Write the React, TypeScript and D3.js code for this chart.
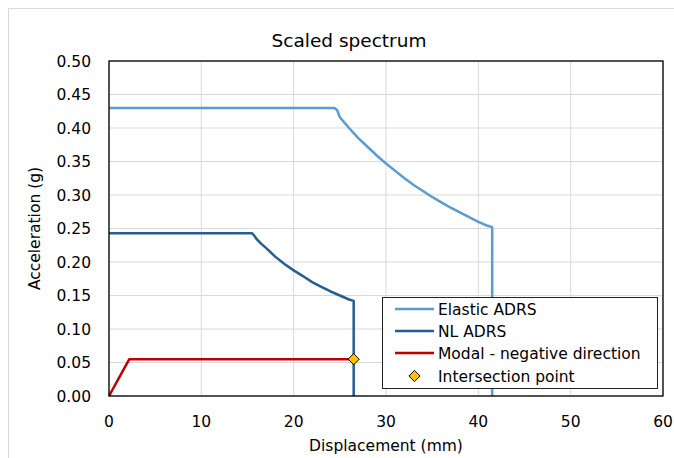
import React from 'react'
import * as d3 from 'd3'

// values: [displacement mm, acceleration g]
const elasticAdrs: [number, number][] = [
  [0, 0.43], [24.4, 0.43], [24.7, 0.427], [25, 0.416], [25.5, 0.408], [26, 0.4],
  [27, 0.385], [28, 0.372], [29, 0.359], [30, 0.347], [31, 0.336], [32, 0.325],
  [33, 0.315], [34, 0.306], [35, 0.297], [36, 0.289], [37, 0.281], [38, 0.274],
  [39, 0.267], [40, 0.26], [41, 0.254], [41.5, 0.252], [41.5, 0]
]
const nlAdrs: [number, number][] = [
  [0, 0.243], [15.5, 0.243], [15.8, 0.238], [16, 0.234], [16.5, 0.227], [17, 0.221],
  [18, 0.208], [19, 0.197], [20, 0.1875], [21, 0.179], [22, 0.17], [23, 0.163],
  [24, 0.156], [25, 0.15], [26, 0.144], [26.5, 0.142], [26.5, 0]
]
const modalNegative: [number, number][] = [[0, 0], [2.2, 0.055], [26.5, 0.055]]
const intersection: [number, number][] = [[26.5, 0.055]]

const xTicks = [0, 10, 20, 30, 40, 50, 60]
const yTicks = [0, 0.05, 0.1, 0.15, 0.2, 0.25, 0.3, 0.35, 0.4, 0.45, 0.5]

const legendItems = [
  { label: 'Elastic ADRS', color: '#5B9BD5', kind: 'line' },
  { label: 'NL ADRS', color: '#255E91', kind: 'line' },
  { label: 'Modal - negative direction', color: '#C00000', kind: 'line' },
  { label: 'Intersection point', color: '#FFC000', kind: 'marker' }
]

const plot = { left: 109, right: 663, top: 61, bottom: 396 }
const font = '"DejaVu Sans", Verdana, sans-serif'

const App = () => {
  const xScale = d3.scaleLinear().domain([0, 60]).range([plot.left, plot.right])
  const yScale = d3.scaleLinear().domain([0, 0.5]).range([plot.bottom, plot.top])
  const line = d3.line<[number, number]>()
    .x(d => xScale(d[0]))
    .y(d => yScale(d[1]))
  const diamond = d3.symbol().type(d3.symbolDiamond2).size(80)

  const series = [
    { data: elasticAdrs, color: legendItems[0].color },
    { data: nlAdrs, color: legendItems[1].color },
    { data: modalNegative, color: legendItems[2].color }
  ]

  const legend = { x: 382, y: 297, w: 275, h: 91 }
  const rowY = [309, 331, 353, 376]

  return (
    <svg width={674} height={458} style={{ position: 'absolute', left: 0, top: 0, background: '#fff' }} fontFamily={font}>
      <rect x={8.5} y={8.5} width={700} height={500} fill='#fff' stroke='#D9D9D9' />

      <text x={349} y={47} textAnchor='middle' fontSize={18.5} fill='#000'>Scaled spectrum</text>

      {/* gridlines */}
      {xTicks.map(t => (
        <line key={`gx${t}`} x1={xScale(t)} x2={xScale(t)} y1={plot.top} y2={plot.bottom} stroke='#D9D9D9' />
      ))}
      {yTicks.map(t => (
        <line key={`gy${t}`} x1={plot.left} x2={plot.right} y1={yScale(t)} y2={yScale(t)} stroke='#D9D9D9' />
      ))}

      {/* tick labels */}
      {xTicks.map(t => (
        <text key={`tx${t}`} x={xScale(t)} y={427} textAnchor='middle' fontSize={15.5}>{t}</text>
      ))}
      {yTicks.map(t => (
        <text key={`ty${t}`} x={91} y={yScale(t) + 5.5} textAnchor='end' fontSize={15.5}>{t.toFixed(2)}</text>
      ))}

      <text x={(plot.left + plot.right) / 2} y={451} textAnchor='middle' fontSize={15.5}>Displacement (mm)</text>
      <text transform={`translate(40, ${(plot.top + plot.bottom) / 2}) rotate(-90)`} textAnchor='middle' fontSize={15.5}>Acceleration (g)</text>

      {/* series */}
      {series.map((s, i) => (
        <path key={i} d={line(s.data) ?? ''} fill='none' stroke={s.color} strokeWidth={2.5} strokeLinejoin='round' />
      ))}
      {intersection.map((d, i) => (
        <path key={i} d={diamond() ?? ''} transform={`translate(${xScale(d[0])}, ${yScale(d[1])})`}
          fill='#FFC000' stroke='#000' strokeWidth={1} />
      ))}

      {/* plot frame */}
      <rect x={plot.left} y={plot.top} width={plot.right - plot.left} height={plot.bottom - plot.top} fill='none' stroke='#000' strokeWidth={1.3} />

      {/* legend */}
      <rect x={legend.x + 0.5} y={legend.y + 0.5} width={legend.w} height={legend.h} fill='#fff' stroke='#222' strokeWidth={1} />
      {legendItems.map((item, i) => (
        <g key={item.label}>
          {item.kind === 'line'
            ? <line x1={395} x2={434} y1={rowY[i]} y2={rowY[i]} stroke={item.color} strokeWidth={2.5} />
            : <path d={diamond() ?? ''} transform={`translate(414.5, ${rowY[i]})`} fill={item.color} stroke='#000' strokeWidth={1} />}
          <text x={438} y={rowY[i] + 6} fontSize={15.5}>{item.label}</text>
        </g>
      ))}
    </svg>
  )
}

export default App
